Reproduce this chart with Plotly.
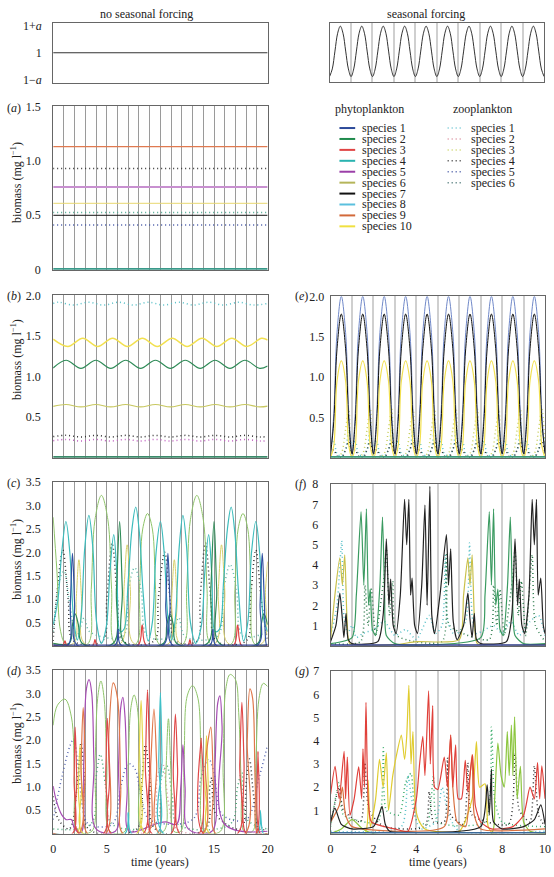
import plotly.graph_objects as go

W, H = 554, 877
FONT = "Liberation Serif"

# ---------------- data ----------------
FORCE_FLAT_T = [0, 20]
FORCE_FLAT_V = [0, 0]
FORCE_T = [i / 8 for i in range(81)]
FORCE_V = [
    -0.95, -0.66, 0.02, 0.7, 0.97, 0.7, 0.02, -0.66,
    -0.95, -0.66, 0.02, 0.7, 0.97, 0.7, 0.02, -0.66,
    -0.95, -0.66, 0.02, 0.7, 0.97, 0.7, 0.02, -0.66,
    -0.95, -0.66, 0.02, 0.7, 0.97, 0.7, 0.02, -0.66,
    -0.95, -0.66, 0.02, 0.7, 0.97, 0.7, 0.02, -0.66,
    -0.95, -0.66, 0.02, 0.7, 0.97, 0.7, 0.02, -0.66,
    -0.95, -0.66, 0.02, 0.7, 0.97, 0.7, 0.02, -0.66,
    -0.95, -0.66, 0.02, 0.7, 0.97, 0.7, 0.02, -0.66,
    -0.95, -0.66, 0.02, 0.7, 0.97, 0.7, 0.02, -0.66,
    -0.95, -0.66, 0.02, 0.7, 0.97, 0.7, 0.02, -0.66,
    -0.95,
]

# panel (a): equilibrium levels
A_T = [0, 20]
A_SP9 = 1.13
A_Z4 = 0.93
A_SP5 = 0.76
A_SP10 = 0.61
A_Z1 = 0.525
A_SP7 = 0.50
A_Z5 = 0.41
A_SP4 = 0.005

# panel (b)
B_SP10 = [(0, 1.46), (1.37, 1.37), (2.76, 1.47), (4.15, 1.37), (5.54, 1.47), (6.93, 1.37), (8.32, 1.47),
          (9.71, 1.37), (11.1, 1.47), (12.49, 1.37), (13.88, 1.47), (15.27, 1.37), (16.66, 1.47),
          (18.05, 1.37), (19.44, 1.47), (20, 1.45)]
B_SP2 = [(0, 1.105), (1.2, 1.20), (2.59, 1.10), (3.98, 1.20), (5.37, 1.10), (6.76, 1.20), (8.15, 1.10),
         (9.54, 1.20), (10.93, 1.10), (12.32, 1.20), (13.71, 1.10), (15.1, 1.20), (16.49, 1.10),
         (17.88, 1.20), (19.27, 1.10), (20, 1.13)]
B_SP6 = [(0, 0.632), (1.2, 0.655), (2.59, 0.625), (3.98, 0.655), (5.37, 0.625), (6.76, 0.655), (8.15, 0.625),
         (9.54, 0.655), (10.93, 0.625), (12.32, 0.655), (13.71, 0.625), (15.1, 0.655), (16.49, 0.625),
         (17.88, 0.655), (19.27, 0.625), (20, 0.635)]
B_Z1 = [(0, 1.9), (0.5, 1.915), (1.9, 1.88), (3.3, 1.915), (4.7, 1.88), (6.1, 1.915), (7.5, 1.88),
        (8.9, 1.915), (10.3, 1.88), (11.7, 1.915), (13.1, 1.88), (14.5, 1.915), (15.9, 1.88),
        (17.3, 1.915), (18.7, 1.88), (20, 1.9)]
B_Z4 = [(0, 0.26), (1.2, 0.275), (2.59, 0.255), (3.98, 0.275), (5.37, 0.255), (6.76, 0.275), (8.15, 0.255),
        (9.54, 0.275), (10.93, 0.255), (12.32, 0.275), (13.71, 0.255), (15.1, 0.275), (16.49, 0.255),
        (17.88, 0.275), (19.27, 0.255), (20, 0.26)]
B_Z2 = [(0, 0.21), (1.2, 0.225), (2.59, 0.205), (3.98, 0.225), (5.37, 0.205), (6.76, 0.225), (8.15, 0.205),
        (9.54, 0.225), (10.93, 0.205), (12.32, 0.225), (13.71, 0.205), (15.1, 0.225), (16.49, 0.205),
        (17.88, 0.225), (19.27, 0.205), (20, 0.21)]
B_SP4 = [(0, 0.005), (20, 0.005)]

# panel (c)
C_SP4 = [(0, 0.45), (0.45, 1.0), (0.8, 2.0), (1.19, 2.66), (1.55, 2.0), (1.9, 0.6), (2.25, 0.12), (2.6, 0.6),
         (2.95, 2.1), (3.33, 2.79), (3.7, 2.1), (4.05, 0.5), (4.5, 0.05), (4.95, 0.4), (5.3, 1.6), (5.65, 2.38),
         (5.95, 1.5), (6.25, 0.3), (6.6, 0.35), (7.0, 1.4), (7.35, 2.5), (7.7, 2.97), (8.05, 2.4), (8.4, 1.1),
         (8.85, 0.1), (9.25, 0.5), (9.6, 2.0), (10.0, 2.66), (10.35, 2.0), (10.7, 0.6), (11.05, 0.12),
         (11.4, 0.6), (11.75, 2.1), (12.1, 2.79), (12.45, 2.1), (12.8, 0.5), (13.3, 0.05), (13.8, 0.4),
         (14.15, 1.6), (14.5, 2.38), (14.8, 1.5), (15.1, 0.3), (15.5, 0.35), (15.9, 1.4), (16.25, 2.5),
         (16.6, 2.97), (16.95, 2.4), (17.3, 1.1), (17.75, 0.1), (18.15, 0.5), (18.5, 2.0), (18.9, 2.66),
         (19.25, 2.0), (19.6, 0.6), (20, 0.3)]
C_SP6 = [(0, 2.75), (0.35, 1.6), (0.7, 0.3), (1.2, 0.03), (3.2, 0.03), (3.55, 1.2), (3.9, 2.7), (4.5, 3.22),
         (5.1, 2.7), (5.45, 1.2), (5.8, 0.03), (7.7, 0.03), (8.05, 1.2), (8.35, 2.5), (8.8, 2.83), (9.25, 2.5),
         (9.55, 1.2), (9.9, 0.03), (12.1, 0.03), (12.45, 1.2), (12.8, 2.7), (13.4, 3.22), (14.0, 2.7),
         (14.35, 1.2), (14.7, 0.03), (16.6, 0.03), (16.95, 1.2), (17.25, 2.5), (17.7, 2.83), (18.15, 2.5),
         (18.45, 1.2), (18.8, 0.03), (20, 0.03)]
C_SP10 = [(0, 0.05), (1.9, 0.05), (2.15, 1.0), (2.4, 1.84), (2.65, 1.0), (2.9, 0.05), (6.3, 0.05), (6.6, 1.2),
          (6.9, 2.16), (7.2, 1.2), (7.5, 0.05), (10.8, 0.05), (11.05, 1.0), (11.3, 1.84), (11.55, 1.0),
          (11.8, 0.05), (15.1, 0.05), (15.4, 1.2), (15.7, 2.16), (16.0, 1.2), (16.3, 0.05), (19.5, 0.05),
          (19.8, 1.2), (20, 1.8)]
C_SP2 = [(0, 0.05), (1.5, 0.05), (1.8, 0.45), (2.05, 0.68), (2.35, 0.45), (2.7, 0.05), (5.6, 0.05), (5.9, 1.2),
         (6.2, 2.66), (6.45, 1.2), (6.7, 0.05), (10.3, 0.05), (10.6, 0.45), (10.9, 0.68), (11.2, 0.45),
         (11.5, 0.05), (14.4, 0.05), (14.7, 1.2), (15.0, 2.66), (15.25, 1.2), (15.5, 0.05), (19.1, 0.05),
         (19.4, 0.45), (19.65, 0.68), (20, 0.45)]
C_SP1 = [(0, 0.02), (1.4, 0.02), (1.6, 0.9), (1.8, 1.98), (2.0, 0.9), (2.2, 0.02), (5.8, 0.02), (6.05, 0.35),
         (6.3, 0.02), (10.3, 0.02), (10.5, 0.9), (10.7, 1.98), (10.9, 0.9), (11.1, 0.02), (14.65, 0.02),
         (14.9, 0.35), (15.15, 0.02), (19.1, 0.02), (19.3, 0.9), (19.5, 1.98), (19.7, 0.9), (19.9, 0.02),
         (20, 0.02)]
C_SP3 = [(0, 0.0), (0.9, 0.0), (1.1, 0.1), (1.3, 0.0), (3.7, 0.0), (3.9, 0.13), (4.1, 0.0), (7.9, 0.0),
         (8.3, 0.44), (8.7, 0.0), (12.55, 0.0), (12.75, 0.13), (12.95, 0.0), (16.8, 0.0), (17.2, 0.44),
         (17.6, 0.0), (20, 0.0)]
C_Z4 = [(0, 0.1), (0.3, 1.0), (0.9, 2.05), (1.4, 1.0), (1.9, 0.1), (4.6, 0.1), (5.0, 1.0), (5.5, 2.2),
        (6.0, 1.0), (6.5, 0.1), (9.4, 0.1), (9.8, 1.0), (10.4, 2.0), (10.9, 1.0), (11.4, 0.1), (13.4, 0.1),
        (13.7, 1.0), (14.2, 2.2), (14.7, 1.0), (15.2, 0.1), (18.0, 0.1), (18.4, 1.0), (18.9, 2.05),
        (19.4, 1.0), (20, 0.1)]
C_Z1 = [(0, 0.3), (0.6, 1.4), (1.0, 1.6), (1.6, 0.8), (2.2, 0.2), (2.9, 0.6), (3.4, 0.3), (6.5, 0.2),
        (7.0, 1.2), (7.6, 1.67), (8.2, 1.2), (8.8, 0.2), (11.0, 0.2), (11.7, 0.6), (12.3, 0.2), (15.3, 0.2),
        (15.9, 1.2), (16.5, 1.74), (17.1, 1.2), (17.7, 0.2), (20, 0.3)]

# panel (d)
D_SP6 = [(0, 2.32), (0.4, 2.75), (1.1, 2.88), (1.7, 2.5), (2.0, 1.2), (2.3, 0.05), (3.6, 0.05), (3.9, 1.5),
         (4.15, 2.9), (4.45, 3.27), (4.75, 2.9), (5.0, 1.5), (5.3, 0.05), (6.7, 0.05), (7.0, 1.5), (7.25, 2.7),
         (7.55, 2.97), (7.85, 2.7), (8.1, 1.5), (8.35, 0.05), (10.3, 0.05), (10.5, 1.2), (10.75, 2.46),
         (11.0, 1.2), (11.25, 0.05), (11.9, 0.05), (12.2, 1.5), (12.5, 2.95), (13.0, 3.17), (13.5, 2.9),
         (13.8, 1.4), (14.1, 0.05), (15.6, 0.05), (15.85, 1.5), (16.1, 3.1), (16.5, 3.41), (17.0, 3.3),
         (17.3, 2.6), (17.55, 1.0), (17.8, 0.05), (18.6, 0.05), (18.9, 1.5), (19.2, 2.9), (19.6, 3.22),
         (20, 3.15)]
D_SP5 = [(0, 1.02), (0.3, 0.7), (0.8, 0.4), (1.2, 0.3), (1.7, 0.3), (2.0, 0.1), (2.6, 0.02), (2.85, 1.5),
         (3.1, 3.1), (3.35, 3.3), (3.6, 3.0), (3.8, 1.5), (4.0, 0.1), (5.8, 0.05), (6.1, 1.5), (6.3, 2.7),
         (6.5, 2.92), (6.7, 2.5), (6.9, 1.0), (7.1, 0.05), (9.5, 0.2), (10.5, 0.25), (11.5, 0.2), (11.9, 1.0),
         (12.1, 1.9), (12.3, 1.0), (12.6, 0.1), (14.8, 0.05), (15.1, 1.5), (15.35, 2.8), (15.55, 2.95),
         (15.75, 2.3), (16.0, 0.2), (20, 0.05)]
D_SP9 = [(0, 0.0), (2.4, 0.0), (2.6, 1.5), (2.8, 2.7), (3.0, 1.5), (3.2, 0.0), (4.9, 0.0), (5.2, 2.2),
         (5.6, 3.23), (6.0, 2.9), (6.3, 1.0), (6.5, 0.0), (8.8, 0.0), (9.1, 1.5), (9.4, 2.67), (9.65, 1.5),
         (9.9, 0.0), (13.95, 0.0), (14.2, 1.5), (14.45, 2.0), (14.7, 2.28), (14.95, 1.0), (15.15, 0.0),
         (17.9, 0.0), (18.1, 2.0), (18.35, 3.1), (18.6, 2.9), (18.85, 1.0), (19.1, 0.0), (20, 0.0)]
D_SP3 = [(0, 0.0), (1.8, 0.0), (1.95, 1.2), (2.05, 2.28), (2.2, 1.2), (2.4, 0.0), (4.7, 0.0), (4.9, 1.3),
         (5.05, 2.47), (5.25, 1.2), (5.4, 0.0), (8.4, 0.0), (8.6, 1.5), (8.8, 3.08), (9.0, 1.5), (9.2, 0.0),
         (11.0, 0.0), (11.2, 1.4), (11.4, 2.56), (11.6, 1.4), (11.8, 0.0), (13.6, 0.0), (13.8, 2.04),
         (14.0, 0.0), (17.2, 0.0), (17.4, 1.5), (17.6, 2.81), (17.8, 1.5), (18.0, 0.0), (18.9, 0.0),
         (19.1, 1.75), (19.3, 0.0), (20, 0.0)]
D_SP8 = [(0, 0.0), (6.7, 0.0), (7.0, 0.45), (7.3, 0.0), (9.7, 0.0), (9.85, 1.6), (10.0, 3.02), (10.15, 1.6),
         (10.3, 0.0), (19.0, 0.0), (19.3, 0.5), (19.6, 0.0), (20, 0.0)]
D_SP10 = [(0, 0.0), (2.2, 0.0), (2.35, 1.0), (2.5, 1.9), (2.65, 1.0), (2.8, 0.0), (7.8, 0.0), (8.0, 1.5),
          (8.2, 2.85), (8.4, 1.5), (8.6, 0.0), (14.0, 0.0), (14.15, 1.1), (14.3, 2.1), (14.45, 1.1),
          (14.6, 0.0), (20, 0.0)]
D_Z5 = [(0, 0.3), (0.8, 1.2), (1.6, 1.9), (1.9, 2.02), (2.3, 1.5), (2.8, 0.5), (3.3, 0.2), (5.5, 0.2),
        (6.3, 1.0), (7.0, 1.5), (7.6, 1.4), (8.2, 0.8), (9.0, 0.3), (13.0, 0.3), (13.8, 1.2), (14.5, 1.6),
        (15.0, 1.3), (15.8, 0.4), (18.0, 0.3), (19.2, 1.2), (20, 1.9)]
D_Z4 = [(0, 0.8), (0.5, 0.3), (1.5, 0.1), (2.3, 1.2), (2.6, 1.95), (2.9, 1.2), (3.3, 0.1), (7.8, 0.1),
        (8.3, 1.2), (8.6, 1.9), (9.0, 1.2), (9.5, 0.1), (14.2, 0.1), (14.6, 1.0), (14.8, 1.2), (15.2, 0.4),
        (17.5, 0.1), (18.0, 1.1), (18.3, 1.6), (18.7, 0.8), (19.2, 0.1), (20, 0.1)]
D_Z1 = [(0, 0.1), (3.5, 0.2), (4.0, 1.2), (4.4, 1.7), (4.9, 1.0), (5.5, 0.2), (9.5, 0.2), (10.1, 1.2),
        (10.6, 1.45), (11.1, 0.8), (11.6, 0.2), (16.5, 0.2), (17.2, 1.0), (17.6, 1.3), (18.1, 0.3), (20, 0.1)]
D_Z2 = [(0, 0.0), (9.0, 0.1), (9.7, 1.2), (10.2, 1.5), (10.8, 0.6), (11.5, 0.1), (20, 0.0)]

# panel (e): seasonal forcing, one knot set per year
E_T = [k + f for k in range(10) for f in (0, 0.15, 0.3, 0.5, 0.7, 0.85)] + [10]
E_SP1 = [0.05, 0.55, 1.55, 2.0, 1.55, 0.55, 0.05, 0.55, 1.55, 2.0, 1.55, 0.55,
         0.05, 0.55, 1.55, 2.0, 1.55, 0.55, 0.05, 0.55, 1.55, 2.0, 1.55, 0.55,
         0.05, 0.55, 1.55, 2.0, 1.55, 0.55, 0.05, 0.55, 1.55, 2.0, 1.55, 0.55,
         0.05, 0.55, 1.55, 2.0, 1.55, 0.55, 0.05, 0.55, 1.55, 2.0, 1.55, 0.55,
         0.05, 0.55, 1.55, 2.0, 1.55, 0.55, 0.05, 0.55, 1.55, 2.0, 1.55, 0.55, 0.05]
E_SP7 = [0.05, 0.45, 1.35, 1.78, 1.35, 0.45, 0.05, 0.45, 1.35, 1.78, 1.35, 0.45,
         0.05, 0.45, 1.35, 1.78, 1.35, 0.45, 0.05, 0.45, 1.35, 1.78, 1.35, 0.45,
         0.05, 0.45, 1.35, 1.78, 1.35, 0.45, 0.05, 0.45, 1.35, 1.78, 1.35, 0.45,
         0.05, 0.45, 1.35, 1.78, 1.35, 0.45, 0.05, 0.45, 1.35, 1.78, 1.35, 0.45,
         0.05, 0.45, 1.35, 1.78, 1.35, 0.45, 0.05, 0.45, 1.35, 1.78, 1.35, 0.45, 0.05]
E_SP10 = [0.0, 0.15, 0.95, 1.2, 0.95, 0.15, 0.0, 0.15, 0.95, 1.2, 0.95, 0.15,
          0.0, 0.15, 0.95, 1.2, 0.95, 0.15, 0.0, 0.15, 0.95, 1.2, 0.95, 0.15,
          0.0, 0.15, 0.95, 1.2, 0.95, 0.15, 0.0, 0.15, 0.95, 1.2, 0.95, 0.15,
          0.0, 0.15, 0.95, 1.2, 0.95, 0.15, 0.0, 0.15, 0.95, 1.2, 0.95, 0.15,
          0.0, 0.15, 0.95, 1.2, 0.95, 0.15, 0.0, 0.15, 0.95, 1.2, 0.95, 0.15, 0.0]
E_Z3 = [0.02, 0.0, 0.0, 0.05, 0.35, 0.6, 0.02, 0.0, 0.0, 0.05, 0.35, 0.6,
        0.02, 0.0, 0.0, 0.05, 0.35, 0.6, 0.02, 0.0, 0.0, 0.05, 0.35, 0.6,
        0.02, 0.0, 0.0, 0.05, 0.35, 0.6, 0.02, 0.0, 0.0, 0.05, 0.35, 0.6,
        0.02, 0.0, 0.0, 0.05, 0.35, 0.6, 0.02, 0.0, 0.0, 0.05, 0.35, 0.6,
        0.02, 0.0, 0.0, 0.05, 0.35, 0.6, 0.02, 0.0, 0.0, 0.05, 0.35, 0.6, 0.02]
E_Z1 = [0.15, 0.2, 0.05, 0.02, 0.1, 0.35, 0.15, 0.2, 0.05, 0.02, 0.1, 0.35,
        0.15, 0.2, 0.05, 0.02, 0.1, 0.35, 0.15, 0.2, 0.05, 0.02, 0.1, 0.35,
        0.15, 0.2, 0.05, 0.02, 0.1, 0.35, 0.15, 0.2, 0.05, 0.02, 0.1, 0.35,
        0.15, 0.2, 0.05, 0.02, 0.1, 0.35, 0.15, 0.2, 0.05, 0.02, 0.1, 0.35,
        0.15, 0.2, 0.05, 0.02, 0.1, 0.35, 0.15, 0.2, 0.05, 0.02, 0.1, 0.35, 0.15]
E_Z4 = [0.05, 0.1, 0.02, 0.0, 0.1, 0.2, 0.05, 0.1, 0.02, 0.0, 0.1, 0.2,
        0.05, 0.1, 0.02, 0.0, 0.1, 0.2, 0.05, 0.1, 0.02, 0.0, 0.1, 0.2,
        0.05, 0.1, 0.02, 0.0, 0.1, 0.2, 0.05, 0.1, 0.02, 0.0, 0.1, 0.2,
        0.05, 0.1, 0.02, 0.0, 0.1, 0.2, 0.05, 0.1, 0.02, 0.0, 0.1, 0.2,
        0.05, 0.1, 0.02, 0.0, 0.1, 0.2, 0.05, 0.1, 0.02, 0.0, 0.1, 0.2, 0.05]

# panel (f)
F_SP7 = [(0, 0.2), (0.25, 1.0), (0.43, 2.6), (0.55, 1.3), (0.62, 0.4), (0.72, 1.6), (0.82, 0.3), (1.0, 0.1),
         (2.2, 0.2), (2.45, 1.5), (2.6, 5.3), (2.72, 2.0), (2.8, 3.3), (2.92, 1.0), (3.05, 0.6), (3.25, 2.5),
         (3.45, 7.25), (3.55, 5.0), (3.65, 7.25), (3.73, 2.5), (3.8, 3.35), (3.92, 1.0), (4.05, 0.6),
         (4.25, 3.0), (4.4, 6.97), (4.5, 2.0), (4.63, 7.9), (4.72, 1.5), (4.85, 0.6), (5.1, 2.5), (5.4, 5.5),
         (5.5, 3.0), (5.6, 4.8), (5.72, 1.2), (5.9, 0.3), (6.2, 1.0), (6.4, 2.6), (6.5, 1.3), (6.6, 0.4),
         (6.7, 1.6), (6.8, 0.3), (7.0, 0.1), (8.2, 0.2), (8.45, 1.5), (8.6, 5.3), (8.72, 2.0), (8.8, 3.3),
         (8.92, 1.0), (9.05, 0.6), (9.25, 2.5), (9.4, 7.25), (9.5, 5.0), (9.6, 7.25), (9.68, 2.5),
         (9.8, 3.35), (9.92, 1.0), (10, 0.6)]
F_SP2 = [(0, 0.1), (1.0, 0.4), (1.2, 2.5), (1.42, 6.65), (1.55, 3.0), (1.67, 6.78), (1.77, 2.0), (1.85, 2.8),
         (1.95, 0.8), (2.1, 0.5), (2.3, 3.0), (2.42, 6.37), (2.52, 2.5), (2.6, 0.5), (3.0, 0.1), (7.0, 0.4),
         (7.2, 2.5), (7.4, 6.65), (7.5, 3.0), (7.6, 6.78), (7.7, 2.0), (7.8, 2.8), (7.9, 0.8), (8.05, 0.5),
         (8.25, 3.0), (8.38, 6.37), (8.48, 2.5), (8.6, 0.5), (9.0, 0.1), (10, 0.1)]
F_SP10 = [(0, 0.3), (0.2, 2.5), (0.43, 4.35), (0.55, 3.0), (0.66, 4.5), (0.78, 1.0), (0.9, 0.1), (3.0, 0.05),
          (4.0, 0.2), (6.0, 0.3), (6.2, 2.5), (6.4, 4.35), (6.5, 3.0), (6.6, 4.5), (6.72, 1.0), (6.85, 0.1),
          (10, 0.05)]
F_Z1 = [(0, 0.5), (0.3, 2.0), (0.52, 5.2), (0.62, 1.5), (0.8, 0.6), (1.0, 1.0), (1.2, 0.4), (1.5, 0.6),
        (2.0, 0.8), (2.5, 1.2), (3.0, 0.5), (3.5, 0.8), (4.0, 0.3), (4.6, 1.5), (4.9, 0.6), (5.2, 1.0),
        (5.35, 4.5), (5.45, 1.2), (5.8, 0.5), (6.3, 1.2), (6.48, 5.1), (6.6, 1.5), (6.8, 0.6), (7.2, 0.8),
        (7.6, 1.0), (8.0, 0.6), (8.4, 1.2), (8.8, 0.5), (9.3, 1.2), (9.7, 1.5), (10, 0.5)]
F_Z6 = [(0, 0.1), (1.4, 0.2), (1.6, 3.0), (1.75, 1.0), (1.9, 2.8), (2.1, 0.5), (2.5, 3.5), (2.6, 4.8),
        (2.75, 1.5), (2.9, 3.2), (3.1, 0.5), (5.2, 0.2), (5.4, 4.5), (5.55, 1.0), (7.4, 0.3), (7.6, 3.0),
        (7.75, 1.0), (7.9, 2.8), (8.1, 0.5), (8.5, 3.5), (8.6, 4.8), (8.75, 1.5), (8.9, 3.2), (9.1, 0.5),
        (9.4, 4.5), (9.55, 1.0), (10, 0.2)]

# panel (g)
G_SP3 = [(0, 1.7), (0.21, 2.9), (0.4, 1.5), (0.63, 3.55), (0.7, 1.5), (0.78, 3.3), (0.9, 0.8), (1.1, 1.5),
         (1.31, 2.88), (1.45, 1.5), (1.51, 3.65), (1.58, 2.0), (1.65, 5.66), (1.75, 1.5), (1.9, 0.5),
         (2.5, 0.3), (3.0, 0.2), (3.6, 0.1), (4.0, 1.5), (4.15, 3.0), (4.3, 4.19), (4.4, 2.5), (4.57, 6.15),
         (4.65, 3.0), (4.76, 5.52), (4.85, 2.0), (5.0, 1.9), (5.3, 3.3), (5.45, 2.0), (5.6, 4.25), (5.7, 2.0),
         (5.83, 3.83), (5.95, 1.5), (6.1, 1.5), (6.28, 3.16), (6.4, 1.8), (6.62, 3.4), (6.75, 1.2), (7.0, 0.5),
         (7.5, 0.2), (8.5, 0.3), (9.0, 0.8), (9.3, 2.0), (9.5, 1.5), (9.65, 3.06), (9.75, 1.5), (9.85, 2.92),
         (10, 1.5)]
G_SP9 = [(0, 0.5), (0.4, 1.2), (0.55, 2.0), (0.7, 0.8), (1.0, 0.3), (5.3, 0.3), (5.5, 2.5), (5.6, 4.25),
         (5.7, 2.0), (5.9, 0.5), (6.3, 0.3), (6.5, 2.5), (6.6, 3.4), (6.7, 0.8), (7.0, 0.2), (10, 0.2)]
G_SP10 = [(0, 0.0), (1.6, 0.0), (1.75, 2.3), (1.85, 0.3), (2.1, 1.5), (2.28, 3.2), (2.45, 2.0), (2.6, 3.48),
          (2.7, 1.0), (2.9, 2.5), (3.1, 3.5), (3.3, 4.25), (3.45, 3.2), (3.55, 4.2), (3.65, 6.39), (3.75, 3.0),
          (3.84, 4.4), (3.95, 1.2), (4.1, 0.6), (4.4, 0.2), (6.0, 0.1), (6.6, 1.5), (6.8, 3.97), (6.95, 2.0),
          (7.2, 2.15), (7.35, 0.3), (7.6, 0.0), (10, 0.0)]
G_SP6 = [(0, 0.0), (0.5, 0.2), (1.0, 0.6), (1.5, 0.2), (2.0, 0.0), (7.5, 0.0), (7.65, 1.5), (7.8, 3.9),
         (7.95, 2.5), (8.1, 2.0), (8.24, 4.4), (8.33, 2.5), (8.43, 4.68), (8.5, 2.5), (8.58, 5.03), (8.7, 1.5),
         (8.85, 2.9), (9.0, 0.5), (9.3, 0.1), (10, 0.0)]
G_SP7 = [(0, 0.5), (0.2, 1.1), (0.5, 0.4), (1.0, 0.2), (2.0, 0.3), (2.25, 0.8), (2.4, 1.17), (2.55, 0.4),
         (2.75, 0.1), (3.5, 0.05), (7.0, 0.3), (7.3, 2.1), (7.4, 0.8), (7.5, 2.78), (7.6, 0.5), (8.0, 0.2),
         (9.0, 0.3), (9.5, 0.6), (9.8, 1.24), (10, 0.4)]
G_Z1 = [(0, 0.3), (0.4, 2.2), (0.6, 0.8), (2.2, 0.5), (2.46, 3.7), (2.6, 1.0), (3.2, 0.8), (3.5, 2.2),
        (3.75, 2.6), (4.0, 0.6), (4.5, 0.4), (4.8, 2.5), (5.0, 0.5), (7.2, 0.5), (7.5, 4.6), (7.65, 1.5),
        (8.0, 0.5), (10, 0.3)]
G_Z4 = [(0, 0.4), (0.4, 2.0), (0.6, 1.0), (1.4, 0.5), (1.6, 3.06), (1.8, 1.0), (2.5, 0.3), (4.4, 0.3),
        (4.6, 1.8), (4.8, 0.5), (5.3, 0.5), (5.45, 3.27), (5.6, 0.8), (6.2, 0.4), (6.4, 3.06), (6.6, 0.8),
        (8.3, 0.4), (8.6, 3.48), (8.8, 1.0), (9.3, 0.5), (9.5, 2.92), (9.7, 0.8), (10, 0.3)]
G_Z1B = [(0, 0.1), (3.3, 0.3), (3.6, 2.5), (3.9, 0.8), (4.2, 0.2), (4.9, 0.5), (5.2, 2.0), (5.5, 0.8),
         (6.0, 0.1), (10, 0.1)]

PHYTO_LABELS = ["species 1", "species 2", "species 3", "species 4", "species 5",
                "species 6", "species 7", "species 8", "species 9", "species 10"]
ZOO_LABELS = ["species 1", "species 2", "species 3", "species 4", "species 5", "species 6"]

# ---------------- styles ----------------
PC = {1: "#2c4a9a", 2: "#1f8a4c", 3: "#e04444", 4: "#2ab3b0", 5: "#9b3fa8", 6: "#b5b55a",
      7: "#111111", 8: "#5bc0de", 9: "#d2693a", 10: "#f0e040"}
ZC = {1: "#66c2d0", 2: "#d98a9a", 3: "#c8d060", 4: "#333333", 5: "#3c4fa0", 6: "#3a6a6a"}
LIGHTGREEN = "#8fc46a"
OLIVEY = "#d6cf6a"
DOT = "1px,3px"


def px_x(p):
    return p / W


def px_y(p):
    return 1 - p / H


fig = go.Figure()


def add(idx, t, v, color, width=1, dash="solid", smooth=1.0):
    fig.add_trace(go.Scatter(
        x=t, y=v, mode="lines", xaxis=f"x{idx}", yaxis=f"y{idx}", showlegend=False,
        hoverinfo="skip",
        line=dict(color=color, width=width, dash=dash, shape="spline", smoothing=smooth)))


def addk(idx, knots, color, width=1, dash="solid", smooth=1.0):
    t = [k[0] for k in knots]
    v = [k[1] for k in knots]
    add(idx, t, v, color, width, dash, smooth)


# forcing panels
add(1, FORCE_FLAT_T, FORCE_FLAT_V, "#333333", 1)
add(2, FORCE_T, FORCE_V, "#333333", 1)

# (a)
add(3, A_T, [A_SP9] * 2, "#e07a50", 1.2)
add(3, A_T, [A_Z4] * 2, ZC[4], 1.5, DOT)
add(3, A_T, [A_SP5] * 2, "#c890d0", 2)
add(3, A_T, [A_SP10] * 2, "#e8d870", 1)
add(3, A_T, [A_Z1] * 2, "#4aa890", 1.5, DOT)
add(3, A_T, [A_SP7] * 2, PC[7], 1)
add(3, A_T, [A_Z5] * 2, ZC[5], 1.5, DOT)
add(3, A_T, [A_SP4] * 2, "#3a9a8a", 2.5)

# (b)
addk(4, B_Z1, "#58c0c8", 1.5, DOT)
addk(4, B_SP10, "#f2e050", 1.5)
addk(4, B_SP2, "#2e8b57", 1.2)
addk(4, B_SP6, "#c8c860", 1.2)
addk(4, B_Z4, ZC[4], 1.5, DOT)
addk(4, B_Z2, "#c060c0", 1.5, DOT)
addk(4, B_SP4, "#3a8a6a", 2.5)

# (c)
addk(5, C_Z1, "#5fb8a8", 1.5, DOT)
addk(5, C_Z4, ZC[4], 1.5, DOT)
addk(5, C_SP6, LIGHTGREEN, 1)
addk(5, C_SP10, OLIVEY, 1)
addk(5, C_SP4, "#3cbcbc", 1.2)
addk(5, C_SP2, "#2e8b57", 1.2)
addk(5, C_SP1, "#3050a0", 1.2)
addk(5, C_SP3, PC[3], 1.2)
add(5, [0, 20], [0.005, 0.005], "#2c3a8a", 2)

# (d)
addk(6, D_Z5, "#5565b0", 1.5, DOT)
addk(6, D_Z4, ZC[4], 1.5, DOT)
addk(6, D_Z1, "#4aa878", 1.5, DOT)
addk(6, D_Z2, "#d98a9a", 1.5, DOT)
addk(6, D_SP6, LIGHTGREEN, 1)
addk(6, D_SP5, "#a64db3", 1.2)
addk(6, D_SP10, "#e5d64a", 1.2)
addk(6, D_SP8, "#3fc0c8", 1.2)
addk(6, D_SP9, "#e0784a", 1.2)
addk(6, D_SP3, "#e04848", 1.2)

# (e)
add(7, E_T, E_Z1, "#58c0c8", 1.5, DOT)
add(7, E_T, E_Z3, "#c8d060", 1.5, DOT)
add(7, E_T, E_Z4, ZC[4], 1.5, DOT)
add(7, E_T, E_SP1, "#7088c8", 1)
add(7, E_T, E_SP7, PC[7], 1)
add(7, E_T, E_SP10, "#f2e050", 1.2)
add(7, [0, 10], [0.005, 0.005], "#3a9a7a", 2.5)

# (f)
addk(8, F_Z1, "#58c0c8", 1.5, DOT, 0.6)
addk(8, F_Z6, "#2a7a4a", 1.5, DOT, 0.6)
addk(8, F_SP10, "#c9c04a", 1.2, "solid", 0.6)
addk(8, F_SP2, "#3a9a60", 1.2, "solid", 0.6)
addk(8, F_SP7, "#222222", 1.2, "solid", 0.6)
add(8, [0, 10], [0.02, 0.02], "#2c3a8a", 2)

# (g)
addk(9, G_Z1B, "#58c0c8", 1.5, DOT, 0.6)
addk(9, G_Z1, "#3fae6e", 1.5, DOT, 0.6)
addk(9, G_Z4, ZC[4], 1.5, DOT, 0.6)
addk(9, G_SP6, "#8cc63f", 1.2, "solid", 0.6)
addk(9, G_SP10, "#e0cc30", 1.2, "solid", 0.6)
addk(9, G_SP9, "#d87040", 1.2, "solid", 0.6)
addk(9, G_SP3, "#e0403a", 1.2, "solid", 0.6)
addk(9, G_SP7, "#222222", 1.2, "solid", 0.6)
add(9, [0, 10], [0.02, 0.02], "#3c6a9a", 2)

# ---------------- layout ----------------
TICKFONT = dict(family=FONT, size=12, color="#222")
panels = {
    1: dict(x=(51, 269), y=(16, 77), xr=[0, 20], yr=[-1.1, 1.1], grid=None, so=8,
            yt=[-1, 0, 1], ytt=["1−<i>a</i>", "1", "1+<i>a</i>"], xt=None),
    2: dict(x=(332, 550), y=(16, 76), xr=[0, 10], yr=[-1.15, 1.1], grid="r", so=5, yt=[], ytt=[], xt=None),
    3: dict(x=(51, 269), y=(101, 267), xr=[0, 20], yr=[0, 1.5], grid="l", so=9,
            yt=[0, 0.5, 1.0, 1.5], ytt=["0", "0.5", "1.0", "1.5"], xt=None),
    4: dict(x=(51, 269), y=(293, 458), xr=[0, 20], yr=[0, 2.0], grid="l", so=9,
            yt=[0.5, 1.0, 1.5, 2.0], ytt=["0.5", "1.0", "1.5", "2.0"], xt=None),
    5: dict(x=(51, 269), y=(483, 649), xr=[0, 20], yr=[0, 3.5], grid="l", so=9,
            yt=[0.5, 1.0, 1.5, 2.0, 2.5, 3.0, 3.5],
            ytt=["0.5", "1.0", "1.5", "2.0", "2.5", "3.0", "3.5"], xt=None),
    6: dict(x=(51, 269), y=(674, 840), xr=[0, 20], yr=[0, 3.5], grid="l", so=9,
            yt=[0.5, 1.0, 1.5, 2.0, 2.5, 3.0, 3.5],
            ytt=["0.5", "1.0", "1.5", "2.0", "2.5", "3.0", "3.5"], xt=[0, 5, 10, 15, 20]),
    7: dict(x=(333, 551), y=(294, 458), xr=[0, 10], yr=[0, 2.0], grid="r", so=3,
            yt=[0.5, 1.0, 1.5, 2.0], ytt=["0.5", "1.0", "1.5", "2.0"], xt=None),
    8: dict(x=(333, 551), y=(485, 649), xr=[0, 10], yr=[0, 8], grid="r", so=9,
            yt=[1, 2, 3, 4, 5, 6, 7, 8], ytt=[str(i) for i in range(1, 9)], xt=None),
    9: dict(x=(333, 551), y=(675, 840), xr=[0, 10], yr=[0, 7], grid="r", so=8,
            yt=[1, 2, 3, 4, 5, 6, 7], ytt=[str(i) for i in range(1, 8)], xt=[0, 2, 4, 6, 8, 10]),
}

layout = dict(width=W, height=H, margin=dict(l=0, r=0, t=0, b=0),
              paper_bgcolor="white", plot_bgcolor="white", showlegend=False,
              font=dict(family=FONT, size=12, color="#222"))

for i, p in panels.items():
    xk = "xaxis" if i == 1 else f"xaxis{i}"
    yk = "yaxis" if i == 1 else f"yaxis{i}"
    grid = p["grid"]
    xa = dict(domain=[px_x(p["x"][0]), px_x(p["x"][1])], range=p["xr"], anchor=f"y{i}",
              showline=True, mirror=True, linecolor="#666", linewidth=1, zeroline=False,
              ticks="", fixedrange=True)
    if grid is None:
        xa.update(showgrid=False)
    elif grid == "l":
        xa.update(showgrid=True, dtick=1, tick0=0, gridcolor="#9a9a9a", gridwidth=1)
    else:
        xa.update(showgrid=True, dtick=1, tick0=0, gridcolor="#cfcfcf", gridwidth=2)
    if p["xt"] is not None:
        xa.update(showticklabels=True, tickfont=TICKFONT, ticklabelstandoff=4,
                  tickmode="array", tickvals=p["xt"], ticktext=[str(v) for v in p["xt"]])
        xa.update(minor=dict(showgrid=True, dtick=1, tick0=0,
                             gridcolor=xa["gridcolor"], gridwidth=xa["gridwidth"]))
    else:
        xa.update(showticklabels=False)
    ya = dict(domain=[px_y(p["y"][1]), px_y(p["y"][0])], range=p["yr"], anchor=f"x{i}",
              showline=True, mirror=True, linecolor="#666", linewidth=1, zeroline=False,
              showgrid=False, ticks="", fixedrange=True, tickmode="array",
              tickvals=p["yt"], ticktext=p["ytt"], tickfont=TICKFONT,
              ticklabelstandoff=p["so"])
    layout[xk] = xa
    layout[yk] = ya

annotations = []


def ann(text, x, y, xanchor="center", yanchor="middle", size=12, angle=0):
    annotations.append(dict(text=text, x=px_x(x), y=px_y(y), xref="paper", yref="paper",
                            xanchor=xanchor, yanchor=yanchor, showarrow=False, textangle=angle,
                            font=dict(family=FONT, size=size, color="#222")))


ann("no seasonal forcing", 146, 7)
ann("seasonal forcing", 430, 7)
for letter, y in (("a", 103), ("b", 294), ("c", 484), ("d", 675)):
    ann(f"(<i>{letter}</i>)", 2, y, xanchor="left")
for letter, y in (("e", 294), ("f", 485), ("g", 675)):
    ann(f"(<i>{letter}</i>)", 295, y, xanchor="left")
for yc in (178, 358, 561, 748):
    ann("biomass (mg l<sup>−1</sup>)", 13, yc, angle=-90)
ann("time (years)", 160, 869)
ann("time (years)", 442, 869)

# manual legend
shapes = []
ann("phytoplankton", 373, 104)
ann("zooplankton", 487, 104)
for i, lab in enumerate(PHYTO_LABELS):
    y = 123 + i * 11.1
    shapes.append(dict(type="line", xref="paper", yref="paper", x0=px_x(342), x1=px_x(358),
                       y0=px_y(y), y1=px_y(y), line=dict(color=PC[i + 1], width=2)))
    ann(lab, 363, y, xanchor="left")
for i, lab in enumerate(ZOO_LABELS):
    y = 123 + i * 11.1
    shapes.append(dict(type="line", xref="paper", yref="paper", x0=px_x(452), x1=px_x(466),
                       y0=px_y(y), y1=px_y(y), line=dict(color=ZC[i + 1], width=1.5, dash=DOT)))
    ann(lab, 474, y, xanchor="left")

layout["annotations"] = annotations
layout["shapes"] = shapes
fig.update_layout(**layout)
fig.write_html("out.html", config={"displayModeBar": False},
               post_script="document.body.style.margin='0px';document.body.style.overflow='hidden';")
